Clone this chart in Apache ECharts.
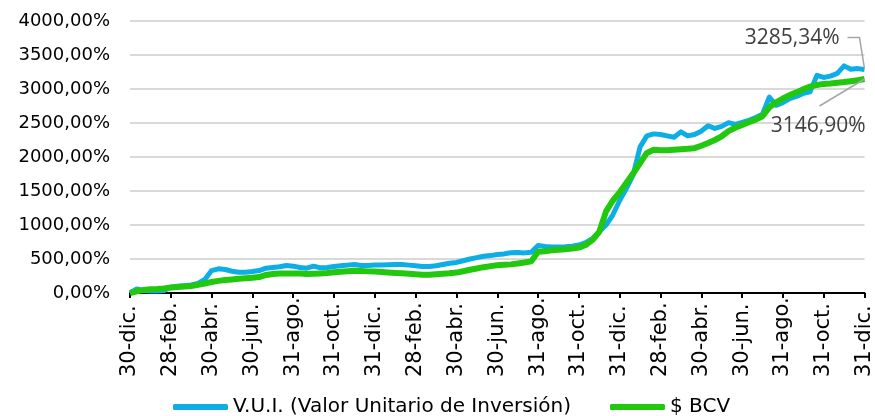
<!DOCTYPE html>
<html>
<head>
<meta charset="utf-8">
<script src="https://cdn.jsdelivr.net/npm/echarts@6/dist/echarts.min.js"></script>
<style>
html,body{margin:0;padding:0;background:#fff;}
#c{width:875px;height:416px;}
</style>
</head>
<body>
<div id="c"></div>
<script>
// Tick labels (one every 6 data points)
var tickLabels = ['30-dic.','28-feb.','30-abr.','30-jun.','31-ago.','31-oct.','31-dic.',
  '28-feb.','30-abr.','30-jun.','31-ago.','31-oct.','31-dic.',
  '28-feb.','30-abr.','30-jun.','31-ago.','31-oct.','31-dic.'];
var pointsPerTick = 6;

var seriesNames = ['V.U.I. (Valor Unitario de Inversión)', '$ BCV'];

// V.U.I. values (%)
var vui = [0,60,35,30,30,35,85,
  100,108,118,140,200,330,
  355,345,320,305,305,315,
  330,365,375,385,405,395,
  375,365,395,370,375,390,
  400,410,420,405,405,410,
  412,415,418,420,410,400,
  390,390,400,420,438,450,
  475,500,520,540,550,565,
  575,592,595,590,600,700,
  685,675,675,680,688,705,
  740,800,900,1000,1150,1360,
  1540,1740,2150,2310,2340,2330,
  2310,2290,2370,2310,2330,2380,
  2460,2420,2450,2505,2480,2510,
  2540,2580,2630,2880,2760,2800,
  2860,2890,2935,2960,3200,3170,
  3190,3230,3340,3290,3300,3285.34];

// $ BCV values (%)
var bcv = [0,25,45,55,60,68,80,
  88,95,103,120,140,162,
  178,190,200,210,218,225,
  235,265,280,285,288,288,
  285,280,283,288,295,305,
  313,320,328,325,318,315,
  308,300,294,289,282,275,
  268,268,275,282,289,300,
  320,342,360,380,395,408,
  415,421,435,448,465,605,
  615,628,637,645,653,668,
  705,780,900,1200,1360,1480,
  1620,1760,1910,2060,2105,2100,
  2100,2108,2115,2120,2130,2165,
  2205,2250,2305,2380,2430,2470,
  2510,2550,2600,2730,2805,2860,
  2910,2950,2995,3035,3060,3075,
  3082,3092,3102,3115,3130,3146.90];

var categories = [];
for (var i = 0; i < vui.length; i++) {
  categories.push(i % pointsPerTick === 0 ? tickLabels[i / pointsPerTick] : '');
}
function fmt(v){ return v.toFixed(2).replace('.', ',') + '%'; }

var chart = echarts.init(document.getElementById('c'), null, {renderer:'canvas'});
var axisFont = 'DejaVu Sans';
chart.setOption({
  animation:false,
  backgroundColor:'#fff',
  grid:{left:130,right:7,top:21,bottom:123},
  legend:{
    left:168, top:391, itemWidth:55, itemHeight:6, itemGap:39,
    icon:'roundRect',
    textStyle:{fontFamily:axisFont,fontSize:20,color:'#000',lineHeight:22},
    data:[{name:seriesNames[0]},{name:seriesNames[1]}]
  },
  xAxis:{
    type:'category', data:categories, boundaryGap:false,
    axisLine:{lineStyle:{color:'#000',width:2}},
    axisTick:{interval:pointsPerTick-1,length:5,lineStyle:{color:'#000',width:2}},
    axisLabel:{interval:pointsPerTick-1,rotate:90,align:'left',margin:84,
      fontFamily:axisFont,fontSize:21,color:'#000'},
    splitLine:{show:false}
  },
  yAxis:{
    type:'value', min:0, max:4000, interval:500,
    axisLine:{show:false}, axisTick:{show:false},
    axisLabel:{formatter:fmt, margin:20, fontFamily:axisFont, fontSize:18, color:'#000'},
    splitLine:{lineStyle:{color:'#d9d9d9',width:2}}
  },
  series:[
    {name:seriesNames[0], type:'line', data:vui, showSymbol:false, symbol:'none',
     lineStyle:{color:'#0daee6',width:5,join:'round'}, itemStyle:{color:'#0daee6'}, z:2},
    {name:seriesNames[1], type:'line', data:bcv, showSymbol:false, symbol:'none',
     lineStyle:{color:'#22c80e',width:6,join:'round'}, itemStyle:{color:'#22c80e'}, z:3}
  ]
});

var last = vui.length - 1;
var pB = chart.convertToPixel({xAxisIndex:0,yAxisIndex:0},[last, vui[last]]);
var pG = chart.convertToPixel({xAxisIndex:0,yAxisIndex:0},[last, bcv[last]]);
var lblFont = '21px "Open Sans"';
chart.setOption({
  graphic:[
    {type:'polyline', shape:{points:[[pB[0],pB[1]-1],[pB[0]-5,pB[1]-32],[pB[0]-17,pB[1]-32]]},
     style:{stroke:'#a6a6a6',lineWidth:1.5,fill:null}, z:10},
    {type:'text', x:pB[0]-25, y:pB[1]-32,
     style:{text:fmt(vui[last]),font:lblFont,fill:'#404040',align:'right',verticalAlign:'middle'}, z:10},
    {type:'line', shape:{x1:pG[0],y1:pG[1],x2:pG[0]-45,y2:pG[1]+27},
     style:{stroke:'#a6a6a6',lineWidth:1.5}, z:10},
    {type:'text', x:pG[0]+1, y:pG[1]+47,
     style:{text:fmt(bcv[last]),font:lblFont,fill:'#404040',align:'right',verticalAlign:'middle'}, z:10}
  ]
});
</script>
</body>
</html>
